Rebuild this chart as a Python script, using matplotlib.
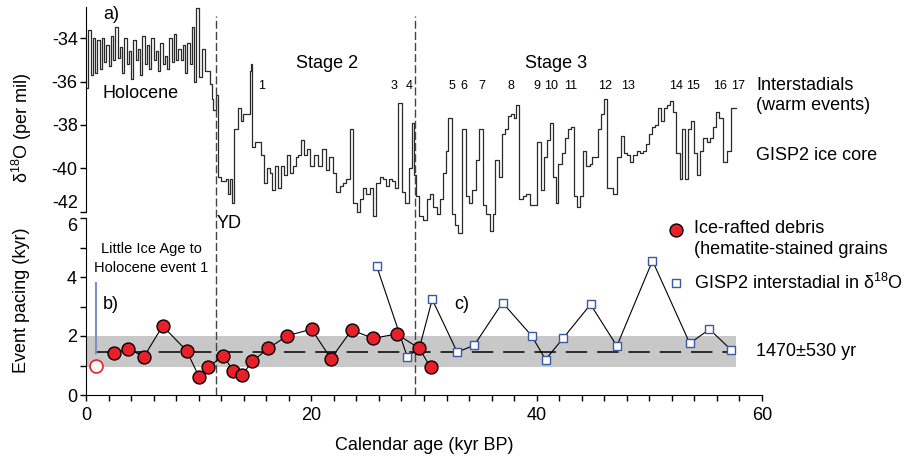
import matplotlib
matplotlib.use('Agg')
import matplotlib.pyplot as plt
import numpy as np

plt.rcParams['font.family'] = ['Liberation Sans', 'DejaVu Sans']
plt.rcParams['axes.unicode_minus'] = False
plt.rcParams['mathtext.fontset'] = 'custom'
plt.rcParams['mathtext.rm'] = 'Liberation Sans'
plt.rcParams['mathtext.it'] = 'Liberation Sans'

# GISP2 d18O record (kyr BP, per mil)
holo_age = [round(0.2 * i, 1) for i in range(51)]
holo_d18o = [-36.3, -33.6, -35.7, -34.0, -35.6, -34.1, -35.4, -34.0, -35.1, -34.3,
             -35.3, -33.9, -35.0, -33.5, -34.9, -34.4, -35.6, -34.0, -35.2, -34.6,
             -35.9, -34.1, -35.0, -34.5, -35.7, -33.9, -35.2, -34.3, -35.4, -34.0,
             -35.0, -34.6, -35.5, -34.2, -35.2, -34.8, -35.4, -34.0, -35.1, -33.8,
             -35.0, -34.5, -35.0, -34.3, -35.6, -34.2, -35.2, -33.5, -36.0, -32.6,
             -35.8]
glac_age = [10.29, 10.6, 11.0, 11.2, 11.3, 11.5, 11.71, 11.98, 12.42, 12.6, 12.78, 12.95,
            13.13, 13.49, 13.75, 13.93, 14.55, 14.65, 14.73, 15.0, 15.53, 15.79, 16.06,
            16.33, 16.5, 16.77, 17.04, 17.3, 17.57, 17.84, 18.1, 18.37, 18.63, 18.81,
            19.08, 19.34, 19.61, 19.88, 20.23, 20.59, 20.94, 21.3, 21.56, 21.92, 22.18,
            22.54, 22.8, 23.07, 23.43, 23.69, 24.05, 24.31, 24.58, 24.84, 25.2, 25.47,
            25.73, 26.09, 26.35, 26.62, 26.89, 27.15, 27.42, 27.68, 28.04, 28.31, 28.66,
            28.93, 29.1, 29.28, 29.55, 29.9, 30.26, 30.52, 30.79, 31.14, 31.41, 31.68,
            31.94, 32.12, 32.48, 32.74, 33.01, 33.36, 33.72, 33.98, 34.25, 34.61, 34.87,
            35.23, 35.49, 35.85, 36.11, 36.29, 36.65, 36.91, 37.18, 37.44, 37.71, 37.98,
            38.15, 38.42, 38.78, 39.04, 39.4, 40.02, 40.37, 40.64, 40.9, 41.17, 41.44,
            41.7, 41.88, 42.24, 42.5, 42.77, 43.03, 43.3, 43.57, 43.83, 44.1, 44.37,
            44.72, 44.9, 45.43, 45.7, 45.96, 46.23, 46.76, 47.12, 47.47, 47.74, 48.0,
            48.27, 48.54, 48.89, 49.16, 49.42, 49.69, 49.96, 50.22, 50.49, 50.75, 51.02,
            51.29, 51.55, 51.82, 52.09, 52.35, 52.71, 52.88, 53.15, 53.42, 53.68, 53.95,
            54.21, 54.48, 54.75, 55.1, 55.37, 55.63, 55.9, 56.17, 56.52, 56.88, 57.23,
            57.68]
glac_d18o = [-34.5, -35.5, -36.1, -36.8, -37.3, -36.6, -40.4, -40.6, -40.5, -41.2, -40.5, -41.6,
             -38.2, -37.2, -37.8, -37.5, -35.5, -35.2, -39.0, -38.8, -39.4, -40.7, -40.0,
             -40.2, -41.0, -39.9, -40.9, -39.9, -40.3, -39.4, -40.2, -39.9, -39.5, -39.4,
             -38.7, -39.4, -39.1, -39.9, -39.4, -39.9, -39.1, -40.1, -39.5, -40.2, -41.1,
             -40.8, -40.7, -40.5, -38.2, -41.6, -42.0, -41.4, -40.9, -41.2, -40.9, -42.2,
             -40.7, -40.4, -40.5, -40.8, -40.5, -40.6, -40.9, -37.0, -41.1, -41.6, -40.0,
             -37.9, -40.3, -41.3, -42.2, -42.4, -41.4, -41.2, -41.8, -42.1, -41.4, -40.2,
             -39.2, -37.7, -42.1, -42.6, -43.0, -38.2, -41.3, -41.6, -41.0, -39.6, -38.2,
             -41.7, -42.1, -42.9, -42.1, -39.6, -40.4, -38.4, -38.2, -37.6, -37.5, -37.7,
             -37.1, -41.4, -41.3, -41.2, -41.7, -38.8, -41.0, -39.5, -38.7, -37.9, -40.4,
             -41.6, -39.8, -39.3, -38.6, -38.2, -38.1, -41.3, -41.8, -41.3, -39.2, -39.9,
             -39.8, -39.5, -38.2, -37.5, -36.8, -40.9, -41.2, -39.5, -38.5, -39.3, -39.4,
             -39.7, -39.4, -39.2, -39.3, -39.2, -38.9, -38.4, -38.1, -38.0, -37.2, -37.8,
             -37.2, -37.1, -36.9, -37.4, -39.3, -40.5, -38.2, -40.5, -38.2, -37.8, -39.3,
             -40.3, -39.2, -38.6, -38.8, -38.6, -38.1, -37.4, -37.7, -39.7, -39.2, -37.2,
             -37.2]

# event pacing (kyr)
ird_age = [2.48, 3.76, 5.15, 6.8, 8.93, 10.03, 10.83, 12.18, 13.07, 13.87, 14.76, 16.18,
           17.86, 20.02, 21.74, 23.57, 25.5, 27.57, 29.58, 30.58]
ird_pacing = [1.41, 1.56, 1.30, 2.34, 1.50, 0.62, 0.94, 1.33, 0.82, 0.69, 1.14, 1.58,
              2.01, 2.23, 1.23, 2.20, 1.92, 2.07, 1.58, 0.94]
gisp_age = [25.79, 28.51, 30.73, 32.95, 34.46, 36.97, 39.55, 40.79, 42.36, 44.78, 47.12,
            50.28, 53.59, 55.34, 57.26]
gisp_pacing = [4.38, 1.30, 3.24, 1.45, 1.69, 3.13, 2.01, 1.20, 1.93, 3.07, 1.66, 4.55,
               1.75, 2.23, 1.53]
lia_age = 0.89
lia_pacing = 0.99
lia_bar_top = 3.8

cycle_mean = 1.47
cycle_sd = 0.53
band_end = 57.7

yd_age = 11.5
stage_boundary = 29.2

interstadial_num = [str(i) for i in [1, 3, 4, 5, 6, 7, 8, 9, 10, 11, 12, 13, 14, 15, 16, 17]]
interstadial_pos = [15.6, 27.3, 28.7, 32.5, 33.5, 35.1, 37.7, 40.0, 41.3, 43.0, 46.1,
                    48.1, 52.4, 53.9, 56.3, 57.9]

W, H = 907, 463
fig = plt.figure(figsize=(W / 100, H / 100), dpi=100)
x_left, x_right = 86, 762
ax_top = fig.add_axes([x_left / W, 1 - 237.5 / H, (x_right - x_left) / W, 231.7 / H])
ax = fig.add_axes([x_left / W, 1 - 395 / H, (x_right - x_left) / W, 177 / H])
for a in (ax_top, ax):
    a.set_facecolor('none')
    a.set_xlim(0, 60)

FS = 13
red = '#e8202a'
blue = '#3a58a8'
d18o = '\u03b4$^{18}$O'

# ---- top panel ----
ages = holo_age + glac_age
vals = holo_d18o + glac_d18o
ax_top.step(ages, vals, where='post', color='#2a2a2a', lw=0.9)
ax_top.set_ylim(-43.2, -32.5)
for s in ['top', 'right', 'bottom']:
    ax_top.spines[s].set_visible(False)
ax_top.spines['left'].set_bounds(-42, -32.55)
ax_top.set_xticks([])
ax_top.set_yticks([-34, -36, -38, -40, -42])
ax_top.tick_params(axis='y', direction='out', length=4, width=1, labelsize=FS, pad=2)
ax_top.get_yticklabels()[-1].set_verticalalignment('bottom')

ax_top.text(1.5, -32.9, 'a)', fontsize=FS, va='center')
ax_top.text(1.5, -36.55, 'Holocene', fontsize=FS, va='center')
ax_top.text(21.4, -35.15, 'Stage 2', fontsize=FS, ha='center', va='center')
ax_top.text(41.7, -35.15, 'Stage 3', fontsize=FS, ha='center', va='center')
for lab, xp in zip(interstadial_num, interstadial_pos):
    ax_top.text(xp, -36.22, lab, fontsize=9, ha='center', va='center')
ax_top.text(59.5, -36.2, 'Interstadials', fontsize=FS, va='center', clip_on=False)
ax_top.text(59.5, -37.1, '(warm events)', fontsize=FS, va='center', clip_on=False)
ax_top.text(59.5, -39.4, 'GISP2 ice core', fontsize=FS, va='center', clip_on=False)

# ---- bottom panel ----
ax.fill_between([0, band_end], cycle_mean - cycle_sd, cycle_mean + cycle_sd,
                color='#c8c8c8', lw=0, zorder=0)
ax.plot([lia_age, band_end], [cycle_mean, cycle_mean], color='black', lw=1.1,
        dashes=(14, 6.5), zorder=1)

# vertical dashed boundaries reaching up into top panel
for xv in (yd_age, stage_boundary):
    ax.plot([xv, xv], [0, 12.85], color='#444444', lw=1.0, dashes=(5.8, 2.2),
            clip_on=False, zorder=1)

ax.plot([lia_age, lia_age], [1.42, lia_bar_top], color='#8090c0', lw=1.5, zorder=2)

ax.plot(ird_age, ird_pacing, color='black', lw=0.8, zorder=3)
gisp_line_x = gisp_age[:2] + [ird_age[-2]] + gisp_age[2:]
gisp_line_y = gisp_pacing[:2] + [ird_pacing[-2]] + gisp_pacing[2:]
ax.plot(gisp_line_x, gisp_line_y, color='black', lw=0.8, zorder=3)
ax.plot(gisp_age, gisp_pacing, 's', ms=6.2, mfc='white', mec=blue, mew=1.0,
        ls='none', zorder=4)
ax.plot(ird_age, ird_pacing, 'o', ms=9.3, mfc=red, mec='black', mew=1.0,
        ls='none', zorder=5)
ax.plot([lia_age], [lia_pacing], 'o', ms=9.3, mfc='white', mec=red, mew=1.2, zorder=5)

ax.set_ylim(0, 6)
for s in ['top', 'right']:
    ax.spines[s].set_visible(False)
ax.set_xticks([0, 20, 40, 60])
ax.set_xticks(np.arange(0, 61, 2), minor=True)
ax.set_yticks([0, 2, 4, 6])
ax.set_yticks([1, 3, 5], minor=True)
ax.tick_params(which='both', direction='out', length=4.5, width=1, labelsize=FS, pad=2)
ax.tick_params(axis='x', pad=4)
ax.get_yticklabels()[-1].set_verticalalignment('top')

ax.text(11.6, 5.8, 'YD', fontsize=FS, va='center')
ax.text(5.8, 4.95, 'Little Ice Age to', fontsize=10.5, ha='center', va='center')
ax.text(5.8, 4.31, 'Holocene event 1', fontsize=10.5, ha='center', va='center')
ax.text(1.5, 3.08, 'b)', fontsize=FS, va='center')
ax.text(32.7, 3.08, 'c)', fontsize=FS, va='center')

# legend by hand
ax.plot([52.35], [5.59], 'o', ms=9.3, mfc=red, mec='black', mew=1.0, clip_on=False)
ax.text(54.0, 5.64, 'Ice-rafted debris', fontsize=FS, va='center', clip_on=False)
ax.text(54.0, 4.92, '(hematite-stained grains', fontsize=FS, va='center', clip_on=False)
ax.plot([52.35], [3.8], 's', ms=6.2, mfc='white', mec=blue, mew=1.0, clip_on=False)
ax.text(54.0, 3.8, 'GISP2 interstadial in ' + d18o, fontsize=FS, va='center',
        clip_on=False)
ax.text(59.5, 1.46, '1470\u00b1530 yr', fontsize=FS, va='center', clip_on=False)

fig.text(424 / W, 1 - 446 / H, 'Calendar age (kyr BP)', fontsize=FS, ha='center', va='center')
fig.text(22 / W, 1 - 128 / H, d18o + ' (per mil)', fontsize=FS, ha='center',
         va='center', rotation=90)
fig.text(22 / W, 1 - 300 / H, 'Event pacing (kyr)', fontsize=FS, ha='center', va='center',
         rotation=90)

fig.savefig('out.png', dpi=100)
